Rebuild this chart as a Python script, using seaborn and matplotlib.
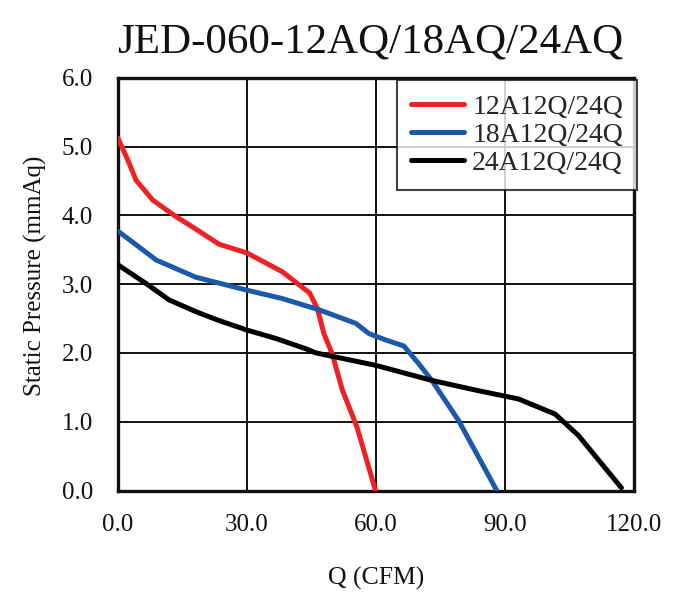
import matplotlib
matplotlib.use("Agg")
import matplotlib.pyplot as plt
import seaborn as sns
import pandas as pd

series_names = ["12A12Q/24Q", "18A12Q/24Q", "24A12Q/24Q"]

red_q = [0.0, 2.3, 4.2, 8.1, 13.5, 16.6, 23.5, 30.1, 38.2, 41.5, 44.6, 46.4, 47.9, 49.8, 52.2, 55.6, 59.9]
red_p = [5.12, 4.80, 4.51, 4.22, 3.98, 3.86, 3.58, 3.45, 3.18, 3.02, 2.87, 2.64, 2.28, 1.99, 1.46, 0.92, 0.0]

blue_q = [0.0, 8.9, 18.1, 30.1, 38.2, 46.6, 55.3, 58.4, 62.2, 66.5, 70.0, 73.0, 79.2, 88.1]
blue_p = [3.77, 3.35, 3.10, 2.91, 2.79, 2.63, 2.43, 2.28, 2.19, 2.10, 1.84, 1.60, 1.02, 0.0]

black_q = [0.0, 6.5, 11.9, 18.1, 23.5, 30.1, 36.7, 43.7, 46.0, 59.9, 73.0, 83.9, 93.2, 101.7, 107.1, 117.1]
black_p = [3.28, 3.01, 2.77, 2.60, 2.47, 2.33, 2.21, 2.06, 2.00, 1.82, 1.60, 1.45, 1.33, 1.11, 0.80, 0.04]

x_ticks = [0, 30, 60, 90, 120]
x_tick_labels = ["0.0", "30.0", "60.0", "90.0", "120.0"]
y_ticks = [0, 1, 2, 3, 4, 5, 6]
y_tick_labels = ["0.0", "1.0", "2.0", "3.0", "4.0", "5.0", "6.0"]

colors = ["#ec2227", "#1d59a9", "#000000"]

frames = []
for name, q, p in zip(series_names, [red_q, blue_q, black_q], [red_p, blue_p, black_p]):
    frames.append(pd.DataFrame({"Q": q, "P": p, "series": name}))
df = pd.concat(frames, ignore_index=True)

sns.set_style("white")
plt.rcParams["font.family"] = ["Liberation Serif", "DejaVu Serif"]

fig = plt.figure(figsize=(6.99, 6.0), dpi=100)
ax = fig.add_axes([0.1688, 0.1825, 0.738, 0.688])

sns.lineplot(data=df, x="Q", y="P", hue="series", hue_order=series_names,
             palette=colors, sort=False, estimator=None, linewidth=3.6, ax=ax,
             zorder=3)

ax.set_xlim(0, 120)
ax.set_ylim(0, 6)
ax.set_xticks(x_ticks)
ax.set_xticklabels(x_tick_labels)
ax.set_yticks(y_ticks)
ax.set_yticklabels(y_tick_labels)
ax.tick_params(axis="both", length=0, labelsize=18, colors="#111111")
ax.tick_params(axis="x", pad=17)
ax.tick_params(axis="y", pad=18)

ax.grid(True, color="#111111", linewidth=1.4)
ax.set_axisbelow(True)
for s in ax.spines.values():
    s.set_visible(True)
    s.set_color("#111111")
    s.set_linewidth(2.4)

ax.set_xlabel("Q (CFM)", fontsize=18.5, labelpad=22, color="#111111")
ax.set_ylabel("Static Pressure (mmAq)", fontsize=18, color="#111111")
ax.yaxis.set_label_coords(-0.138, 0.52)

fig.suptitle("JED-060-12AQ/18AQ/24AQ", x=0.53, y=0.962, fontsize=31, color="#111111")

leg = ax.legend(loc="upper right", bbox_to_anchor=(1.006, 0.994), fontsize=20,
                frameon=True, fancybox=False, handlelength=1.9, handletextpad=0.3,
                borderpad=0.5, labelspacing=0.1, borderaxespad=0.0)
leg.get_frame().set_edgecolor("#111111")
leg.get_frame().set_linewidth(1.5)
for line in leg.get_lines():
    line.set_linewidth(3.6)

fig.savefig("out.png", dpi=100)
